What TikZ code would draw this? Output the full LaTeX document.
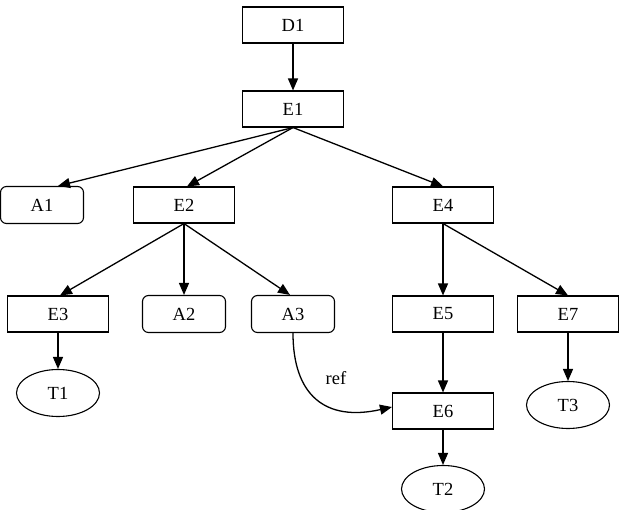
\documentclass[tikz,border=0pt]{standalone}
\usepackage{fontspec}
\setmainfont{Liberation Serif}
\usetikzlibrary{shapes.geometric,arrows.meta}
\begin{document}
\begin{tikzpicture}[x=1pt,y=-1pt,
  every node/.style={font=\fontsize{18.5}{21}\selectfont},
  rbox/.style={draw,line width=1.1pt,minimum width=101pt,minimum height=36pt,inner sep=0pt},
  abox/.style={draw,line width=1.1pt,rounded corners=6pt,minimum width=83pt,minimum height=37pt,inner sep=0pt},
  ell/.style={draw,ellipse,line width=1.1pt,minimum width=83pt,minimum height=47pt,inner sep=0pt},
  arr/.style={line width=1.3pt,-{Triangle[length=12pt,width=10pt]}}]
\useasboundingbox (0,0) rectangle (624,509);
\node[rbox] (D1) at (293,25) {D1};
\node[rbox] (E1) at (293,109) {E1};
\node[abox] (A1) at (42,205) {A1};
\node[rbox] (E2) at (184,205) {E2};
\node[rbox] (E4) at (443,205) {E4};
\node[rbox] (E3) at (58,314) {E3};
\node[abox] (A2) at (184,314) {A2};
\node[abox] (A3) at (293,314) {A3};
\node[rbox] (E5) at (443,314) {E5};
\node[rbox] (E7) at (568,314) {E7};
\node[ell] (T1) at (58,393) {T1};
\node[rbox] (E6) at (443,411) {E6};
\node[ell] (T2) at (443,489) {T2};
\node[ell] (T3) at (568,405) {T3};
\node (ref) at (336,378) {ref};
\draw[arr] (D1.south) -- (E1.north);
\draw[arr] (E1.south) -- ([xshift=16pt]A1.north);
\draw[arr] (E1.south) -- ([xshift=3pt]E2.north);
\draw[arr] (E1.south) -- (E4.north);
\draw[arr] (E2.south) -- ([xshift=2pt]E3.north);
\draw[arr] (E2.south) -- (A2.north);
\draw[arr] (E2.south) -- ([xshift=-3pt]A3.north);
\draw[arr] (E4.south) -- (E5.north);
\draw[arr] (E4.south) -- (E7.north);
\draw[arr] (E3.south) -- (T1.north);
\draw[arr] (E5.south) -- (E6.north);
\draw[arr] (E6.south) -- (T2.north);
\draw[arr] (E7.south) -- (T3.north);
\draw[arr] (A3.south) .. controls (293,395) and (325,422) .. ([yshift=4pt]E6.west);
\end{tikzpicture}
\end{document}
